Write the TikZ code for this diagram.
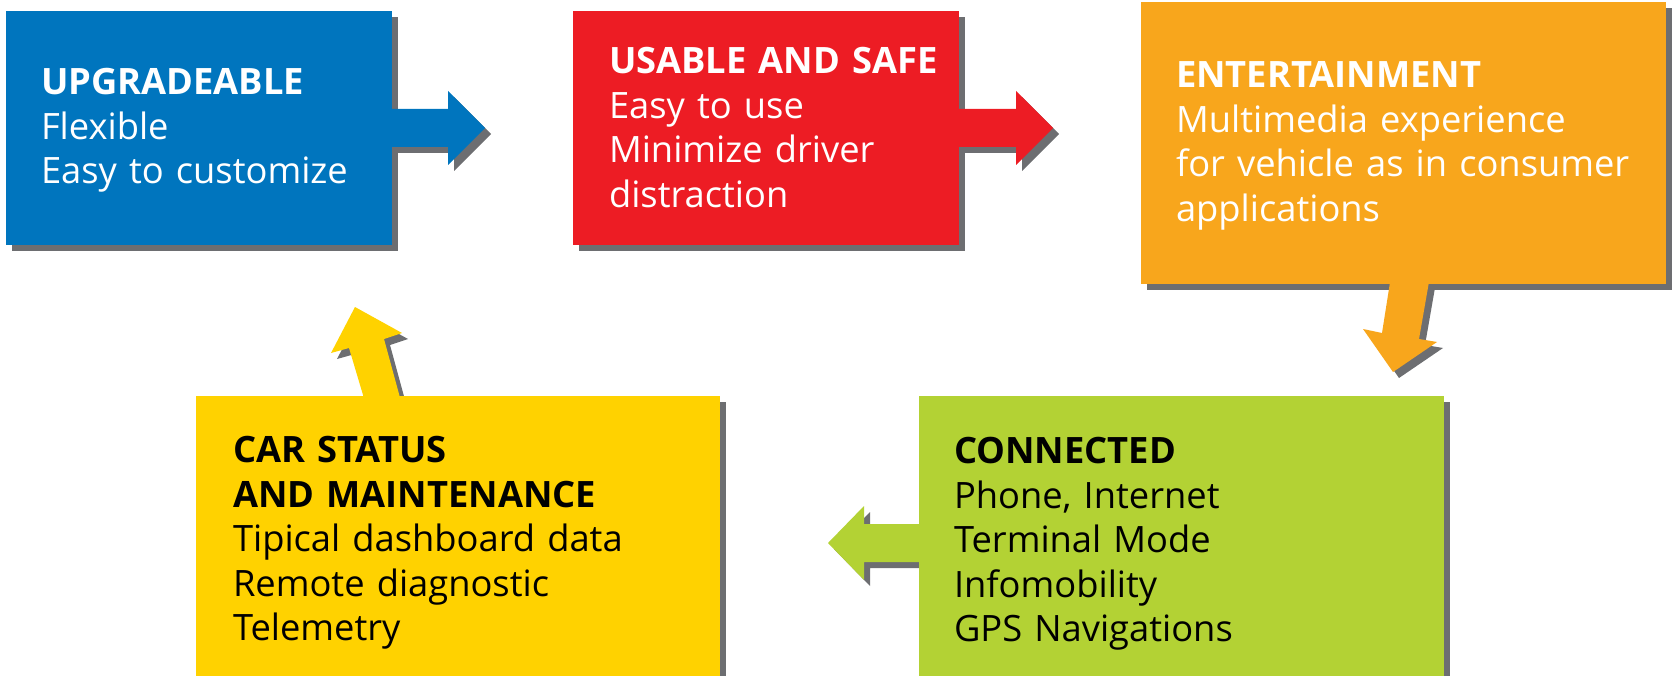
\documentclass[tikz,border=0pt]{standalone}
\usepackage{fontspec}
\setmainfont{Open Sans}
\usetikzlibrary{shadows}
\definecolor{cblue}{HTML}{0075BE}
\definecolor{cred}{HTML}{ED1C24}
\definecolor{corange}{HTML}{F8A61C}
\definecolor{cgreen}{HTML}{B3D234}
\definecolor{cyellow}{HTML}{FFD200}
\definecolor{cgray}{HTML}{6D6E71}
\pgfdeclarelayer{boxshadow}
\pgfdeclarelayer{arrowlayer}
\pgfsetlayers{boxshadow,arrowlayer,main}
\begin{document}
\begin{tikzpicture}[x=1pt,y=-1pt,
  panel/.style={anchor=north west, inner sep=0pt, outer sep=0pt, draw=none},
  label/.style={anchor=north west, inner sep=0pt, outer sep=0pt, text width=540pt, align=left,
     font=\fontsize{36.3}{44.5}\selectfont},
  shade/.style={fill=cgray},
  blockarrow/.style={drop shadow={shadow xshift=6pt, shadow yshift=-6pt, fill=cgray, opacity=1}}]
\useasboundingbox (0,0) rectangle (1672,676);
\clip (0,0) rectangle (1672,676);
% boxes
\node[panel, fill=cblue,   minimum width=386pt, minimum height=234pt] (up)  at (6,11) {};
\node[panel, fill=cred,    minimum width=386pt, minimum height=234pt] (us)  at (573,11) {};
\node[panel, fill=corange, minimum width=525pt, minimum height=282pt] (en)  at (1141,2) {};
\node[panel, fill=cgreen,  minimum width=525pt, minimum height=300pt] (co)  at (919,396) {};
\node[panel, fill=cyellow, minimum width=524pt, minimum height=300pt] (ca)  at (196,396) {};
% box shadows
\begin{pgfonlayer}{boxshadow}
\foreach \b in {up,us,en,co,ca}
  \fill[shade] ([xshift=6pt,yshift=-6pt]\b.north west) rectangle ([xshift=6pt,yshift=-6pt]\b.south east);
\end{pgfonlayer}
% block arrows
\begin{pgfonlayer}{arrowlayer}
\fill[cblue, blockarrow] (386,109) -- (448,109) -- (448,91) -- (485,128) -- (448,165) -- (448,147) -- (386,147) -- cycle;
\fill[cred, blockarrow] (953,109) -- (1016,109) -- (1016,91) -- (1053,128) -- (1016,165) -- (1016,147) -- (953,147) -- cycle;
\fill[corange, blockarrow] (1391,276) -- (1382,333) -- (1363,329) -- (1393,372) -- (1437,342) -- (1419,339) -- (1430,276) -- cycle;
\fill[cgreen, blockarrow] (925,524) -- (864,524) -- (864,506) -- (828,543) -- (864,580) -- (864,562) -- (925,562) -- cycle;
\fill[cyellow, blockarrow] (366,405) -- (349,348) -- (331,353) -- (355,307) -- (402,333) -- (384,339) -- (402,405) -- cycle;
\end{pgfonlayer}
% texts
\node[label, text=white] (upt) at (41,68.5) {\textbf{UPGRADEABLE}\\Flexible\\Easy to customize};
\node[label, text=white] (ust) at (609,47.5) {\textbf{USABLE AND SAFE}\\Easy to use\\Minimize driver\\distraction};
\node[label, text=white] (ent) at (1176,61.5) {\textbf{ENTERTAINMENT}\\Multimedia experience\\for vehicle as in consumer\\applications};
\node[label, text=black] (cot) at (954,437.5) {\textbf{CONNECTED}\\Phone, Internet\\Terminal Mode\\Infomobility\\GPS Navigations};
\node[label, text=black] (cat) at (233,436.5) {\textbf{CAR STATUS}\\\textbf{AND MAINTENANCE}\\Tipical dashboard data\\Remote diagnostic\\Telemetry};
\end{tikzpicture}
\end{document}
